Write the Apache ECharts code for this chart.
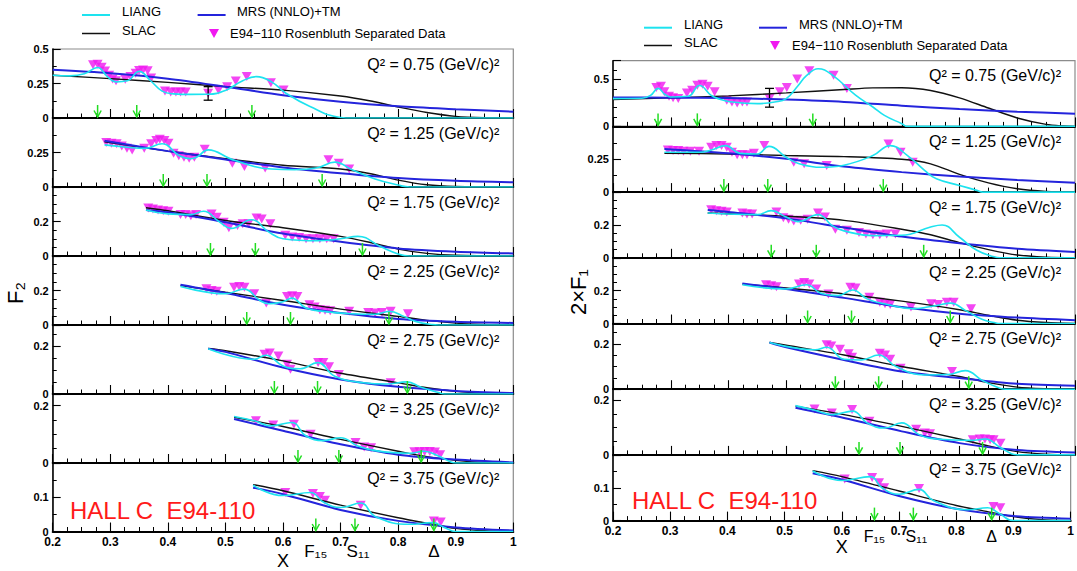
<!DOCTYPE html>
<html>
<head>
<meta charset="utf-8">
<title>E94-110 structure functions</title>
<script src="https://cdn.jsdelivr.net/npm/echarts@6/dist/echarts.min.js"></script>
<style>
  html, body { margin: 0; padding: 0; background: #fff; }
  #chart { width: 1077px; height: 571px; }
</style>
</head>
<body>
<div id="chart"></div>
<script>
// ---- Q^2 bins (one strip per bin) ----
const Q2 = ['0.75', '1.25', '1.75', '2.25', '2.75', '3.25', '3.75'];

// Resonance positions in x for each Q^2 bin: F15, S11, Delta
const RES_X = [
  [0.278, 0.346, 0.546],
  [0.392, 0.468, 0.668],
  [0.474, 0.552, 0.738],
  [0.537, 0.613, 0.784],
  [0.585, 0.660, 0.816],
  [0.626, 0.697, 0.840],
  [0.657, 0.725, 0.862]
];
const RES_NAMES = ['F\u2081\u2085', 'S\u2081\u2081', '\u0394'];

// ---- y ranges of the strips ----
const F2_YMAX  = [0.5, 0.5, 0.4, 0.4, 0.29, 0.24, 0.2];
const F2_YSTEP = [0.25, 0.25, 0.2, 0.2, 0.2, 0.2, 0.1];
const F2_YMINOR = [2, 2, 4, 4, 4, 4, 2];
const F1_YMAX  = [0.7, 0.5, 0.4, 0.4, 0.29, 0.24, 0.2];
const F1_YSTEP = [0.5, 0.25, 0.2, 0.2, 0.2, 0.2, 0.1];
const F1_YMINOR = [5, 2, 4, 4, 4, 4, 2];

// ---- F2: E94-110 Rosenbluth separated data [x, F2] ----
const F2_DATA = [
  [[0.270,0.385],[0.278,0.39],[0.285,0.368],[0.291,0.34],[0.298,0.31],[0.304,0.282],[0.310,0.27],[0.326,0.28],[0.335,0.3],[0.344,0.325],[0.350,0.345],[0.357,0.347],[0.365,0.342],[0.371,0.29],[0.395,0.195],[0.405,0.188],[0.414,0.188],[0.422,0.188],[0.431,0.188],[0.470,0.18],[0.488,0.202],[0.503,0.227],[0.518,0.268],[0.537,0.3],[0.579,0.256],[0.601,0.203]],
  [[0.293,0.322],[0.302,0.317],[0.311,0.313],[0.32,0.298],[0.329,0.281],[0.338,0.269],[0.359,0.281],[0.371,0.313],[0.38,0.337],[0.386,0.346],[0.394,0.337],[0.401,0.317],[0.41,0.245],[0.419,0.226],[0.428,0.216],[0.437,0.209],[0.446,0.216],[0.464,0.274],[0.512,0.173],[0.533,0.149],[0.569,0.137],[0.679,0.197],[0.697,0.173],[0.715,0.13]],
  [[0.366,0.278],[0.374,0.272],[0.383,0.267],[0.392,0.263],[0.401,0.259],[0.422,0.24],[0.431,0.24],[0.44,0.234],[0.449,0.24],[0.476,0.244],[0.485,0.225],[0.497,0.196],[0.506,0.164],[0.521,0.177],[0.53,0.187],[0.54,0.187],[0.554,0.221],[0.563,0.215],[0.578,0.187],[0.604,0.12],[0.616,0.11],[0.628,0.107],[0.64,0.1],[0.652,0.1],[0.664,0.1],[0.676,0.1],[0.688,0.1]],
  [[0.467,0.21],[0.476,0.2],[0.485,0.196],[0.515,0.219],[0.524,0.223],[0.533,0.219],[0.55,0.181],[0.571,0.127],[0.607,0.165],[0.616,0.169],[0.625,0.165],[0.646,0.117],[0.655,0.104],[0.664,0.088],[0.673,0.085],[0.682,0.083],[0.715,0.079],[0.748,0.073],[0.76,0.069],[0.772,0.073],[0.787,0.079],[0.817,0.065]],
  [[0.568,0.167],[0.577,0.172],[0.592,0.16],[0.607,0.125],[0.613,0.104],[0.661,0.132],[0.67,0.132],[0.68,0.115],[0.697,0.082],[0.787,0.047]],
  [[0.553,0.147],[0.583,0.132],[0.619,0.135],[0.648,0.1],[0.726,0.071],[0.741,0.056],[0.753,0.053],[0.828,0.039],[0.837,0.039],[0.846,0.04],[0.855,0.04],[0.864,0.038],[0.873,0.029]],
  [[0.604,0.114],[0.652,0.111],[0.664,0.102],[0.673,0.091],[0.735,0.077],[0.862,0.031],[0.874,0.028]]
];
// one point with its error bar drawn: [x, low, high]
const F2_ERR = [[0.470, 0.129, 0.227]];

// ---- F2 model curves ----
const F2_SLAC = [
  [[0.2,0.31],[0.3,0.285],[0.4,0.258],[0.5,0.227],[0.6,0.202],[0.7,0.159],[0.75,0.125],[0.8,0.08],[0.85,0.04],[0.9,0.012],[0.95,0.002],[1.0,0]],
  [[0.29,0.328],[0.4,0.26],[0.5,0.205],[0.6,0.158],[0.7,0.13],[0.75,0.098],[0.8,0.05],[0.85,0.016],[0.9,0.004],[1.0,0]],
  [[0.362,0.28],[0.4,0.262],[0.5,0.206],[0.6,0.164],[0.7,0.114],[0.75,0.08],[0.8,0.04],[0.85,0.015],[0.9,0.004],[1.0,0]],
  [[0.422,0.229],[0.5,0.19],[0.6,0.142],[0.7,0.092],[0.8,0.05],[0.85,0.027],[0.9,0.011],[0.95,0.003],[1.0,0]],
  [[0.47,0.191],[0.5,0.182],[0.6,0.139],[0.7,0.087],[0.8,0.047],[0.85,0.026],[0.9,0.011],[0.95,0.003],[1.0,0]],
  [[0.515,0.159],[0.6,0.127],[0.7,0.082],[0.8,0.041],[0.85,0.022],[0.9,0.009],[0.95,0.002],[1.0,0]],
  [[0.548,0.137],[0.6,0.119],[0.7,0.077],[0.8,0.04],[0.85,0.024],[0.9,0.009],[0.95,0.002],[1.0,0]]
];
const F2_MRS = [
  [[0.2,0.349],[0.3,0.324],[0.4,0.285],[0.5,0.227],[0.6,0.165],[0.7,0.118],[0.8,0.085],[0.9,0.064],[1.0,0.046]],
  [[0.29,0.335],[0.4,0.26],[0.5,0.2],[0.6,0.142],[0.7,0.1],[0.8,0.065],[0.9,0.045],[1.0,0.034]],
  [[0.362,0.267],[0.4,0.253],[0.5,0.196],[0.6,0.13],[0.7,0.082],[0.8,0.044],[0.9,0.025],[1.0,0.015]],
  [[0.422,0.233],[0.5,0.185],[0.6,0.117],[0.7,0.069],[0.8,0.035],[0.9,0.019],[1.0,0.012]],
  [[0.47,0.19],[0.5,0.177],[0.6,0.111],[0.7,0.061],[0.8,0.03],[0.9,0.013],[1.0,0.004]],
  [[0.515,0.153],[0.6,0.112],[0.7,0.065],[0.8,0.029],[0.9,0.012],[1.0,0.002]],
  [[0.548,0.128],[0.6,0.109],[0.7,0.063],[0.8,0.031],[0.9,0.012],[1.0,0.003]]
];
const F2_LIANG = [
  [[0.2,0.31],[0.23,0.305],[0.255,0.32],[0.278,0.366],[0.295,0.3],[0.31,0.262],[0.33,0.27],[0.35,0.338],[0.37,0.27],[0.39,0.195],[0.41,0.175],[0.44,0.171],[0.47,0.172],[0.5,0.2],[0.53,0.27],[0.554,0.3],[0.58,0.262],[0.604,0.183],[0.646,0.085],[0.7,0.004],[0.72,0],[1.0,0]],
  [[0.29,0.305],[0.33,0.288],[0.36,0.28],[0.39,0.313],[0.42,0.226],[0.44,0.205],[0.45,0.215],[0.47,0.269],[0.51,0.202],[0.55,0.149],[0.58,0.13],[0.62,0.125],[0.66,0.14],[0.69,0.18],[0.72,0.125],[0.76,0.058],[0.8,0.014],[0.82,0],[1.0,0]],
  [[0.362,0.267],[0.4,0.244],[0.44,0.24],[0.462,0.259],[0.49,0.196],[0.51,0.16],[0.545,0.21],[0.575,0.14],[0.6,0.1],[0.66,0.088],[0.7,0.1],[0.73,0.114],[0.77,0.053],[0.8,0.012],[0.82,0],[1.0,0]],
  [[0.422,0.223],[0.5,0.181],[0.532,0.208],[0.56,0.142],[0.575,0.123],[0.6,0.135],[0.615,0.156],[0.64,0.098],[0.67,0.079],[0.72,0.065],[0.76,0.062],[0.785,0.079],[0.81,0.05],[0.83,0.021],[0.86,0.002],[0.87,0],[1.0,0]],
  [[0.47,0.19],[0.55,0.146],[0.57,0.163],[0.6,0.118],[0.63,0.106],[0.66,0.132],[0.69,0.075],[0.74,0.047],[0.78,0.042],[0.815,0.051],[0.84,0.028],[0.87,0.006],[0.88,0],[1.0,0]],
  [[0.515,0.162],[0.55,0.147],[0.58,0.129],[0.615,0.141],[0.64,0.094],[0.67,0.078],[0.7,0.088],[0.73,0.059],[0.76,0.043],[0.82,0.034],[0.845,0.041],[0.87,0.024],[0.89,0.005],[0.9,0],[1.0,0]],
  [[0.548,0.135],[0.6,0.105],[0.648,0.114],[0.67,0.086],[0.7,0.07],[0.735,0.083],[0.76,0.044],[0.82,0.021],[0.86,0.026],[0.88,0.012],[0.9,0],[1.0,0]]
];

// ---- 2xF1: E94-110 Rosenbluth separated data [x, 2xF1] ----
const F1_DATA = [
  [[0.275,0.414],[0.283,0.429],[0.289,0.368],[0.297,0.321],[0.304,0.304],[0.313,0.296],[0.328,0.357],[0.337,0.386],[0.346,0.439],[0.355,0.45],[0.364,0.429],[0.376,0.368],[0.397,0.279],[0.406,0.261],[0.415,0.25],[0.424,0.261],[0.432,0.261],[0.471,0.296],[0.489,0.368],[0.501,0.414],[0.519,0.504],[0.54,0.593],[0.582,0.546],[0.605,0.404]],
  [[0.295,0.321],[0.304,0.316],[0.313,0.316],[0.322,0.311],[0.334,0.311],[0.349,0.311],[0.37,0.341],[0.379,0.354],[0.388,0.354],[0.397,0.341],[0.406,0.303],[0.415,0.285],[0.424,0.285],[0.432,0.285],[0.444,0.295],[0.462,0.354],[0.513,0.227],[0.531,0.215],[0.57,0.202],[0.677,0.366],[0.698,0.303],[0.719,0.227]],
  [[0.37,0.293],[0.379,0.287],[0.388,0.283],[0.397,0.279],[0.424,0.273],[0.432,0.267],[0.441,0.267],[0.483,0.279],[0.495,0.244],[0.504,0.234],[0.513,0.224],[0.525,0.228],[0.537,0.234],[0.555,0.273],[0.567,0.248],[0.585,0.174],[0.605,0.168],[0.626,0.154],[0.638,0.145],[0.65,0.141],[0.662,0.141],[0.674,0.145],[0.689,0.145]],
  [[0.465,0.236],[0.474,0.23],[0.483,0.224],[0.522,0.24],[0.531,0.25],[0.54,0.24],[0.552,0.21],[0.573,0.18],[0.611,0.22],[0.62,0.216],[0.644,0.16],[0.662,0.13],[0.671,0.12],[0.68,0.116],[0.716,0.1],[0.751,0.12],[0.763,0.116],[0.778,0.13],[0.79,0.13],[0.82,0.09]],
  [[0.57,0.196],[0.578,0.191],[0.593,0.176],[0.608,0.156],[0.614,0.141],[0.662,0.159],[0.671,0.151],[0.68,0.132],[0.698,0.093],[0.787,0.078]],
  [[0.549,0.168],[0.579,0.153],[0.614,0.166],[0.644,0.123],[0.725,0.094],[0.74,0.08],[0.749,0.077],[0.823,0.055],[0.835,0.058],[0.844,0.058],[0.853,0.055],[0.859,0.055],[0.871,0.043]],
  [[0.605,0.127],[0.653,0.131],[0.665,0.115],[0.674,0.1],[0.735,0.098],[0.865,0.043],[0.877,0.039]]
];
const F1_ERR = [[0.471, 0.205, 0.405]];

// ---- 2xF1 model curves ----
const F1_SLAC = [
  [[0.2,0.286],[0.3,0.304],[0.4,0.325],[0.5,0.357],[0.6,0.393],[0.65,0.41],[0.7,0.412],[0.75,0.383],[0.8,0.304],[0.85,0.196],[0.9,0.09],[0.95,0.021],[0.98,0.004],[1.0,0]],
  [[0.289,0.295],[0.4,0.29],[0.5,0.278],[0.6,0.27],[0.7,0.25],[0.75,0.215],[0.8,0.135],[0.85,0.07],[0.9,0.025],[0.95,0.005],[1.0,0]],
  [[0.364,0.273],[0.5,0.253],[0.6,0.228],[0.7,0.174],[0.75,0.14],[0.8,0.092],[0.85,0.05],[0.9,0.017],[0.95,0.004],[1.0,0]],
  [[0.424,0.24],[0.5,0.216],[0.6,0.18],[0.7,0.136],[0.8,0.084],[0.85,0.05],[0.9,0.02],[0.95,0.006],[1.0,0]],
  [[0.471,0.206],[0.5,0.194],[0.6,0.151],[0.7,0.1],[0.8,0.056],[0.85,0.029],[0.9,0.009],[0.95,0.002],[1.0,0]],
  [[0.516,0.178],[0.6,0.147],[0.7,0.104],[0.8,0.058],[0.85,0.033],[0.9,0.012],[0.95,0.003],[1.0,0]],
  [[0.549,0.152],[0.6,0.134],[0.7,0.09],[0.8,0.046],[0.85,0.029],[0.9,0.012],[0.95,0.003],[1.0,0]]
];
const F1_MRS = [
  [[0.2,0.307],[0.3,0.306],[0.4,0.302],[0.5,0.286],[0.6,0.261],[0.7,0.22],[0.8,0.185],[0.9,0.157],[1.0,0.136]],
  [[0.289,0.328],[0.4,0.295],[0.5,0.253],[0.6,0.194],[0.7,0.152],[0.8,0.119],[0.9,0.093],[1.0,0.071]],
  [[0.364,0.291],[0.4,0.279],[0.5,0.24],[0.6,0.184],[0.7,0.129],[0.8,0.088],[0.9,0.055],[1.0,0.036]],
  [[0.424,0.244],[0.5,0.21],[0.6,0.156],[0.7,0.1],[0.8,0.06],[0.9,0.036],[1.0,0.02]],
  [[0.471,0.206],[0.5,0.185],[0.6,0.129],[0.7,0.078],[0.8,0.049],[0.9,0.024],[1.0,0.015]],
  [[0.516,0.172],[0.6,0.135],[0.7,0.086],[0.8,0.043],[0.9,0.018],[1.0,0.009]],
  [[0.549,0.144],[0.6,0.125],[0.7,0.075],[0.8,0.036],[0.9,0.014],[1.0,0.006]]
];
const F1_LIANG = [
  [[0.2,0.296],[0.25,0.3],[0.265,0.33],[0.278,0.405],[0.29,0.34],[0.3,0.314],[0.33,0.321],[0.35,0.435],[0.37,0.33],[0.385,0.29],[0.4,0.265],[0.45,0.243],[0.48,0.26],[0.5,0.296],[0.52,0.43],[0.535,0.54],[0.555,0.615],[0.58,0.546],[0.62,0.332],[0.65,0.207],[0.67,0.118],[0.7,0.029],[0.71,0],[1.0,0]],
  [[0.289,0.303],[0.35,0.303],[0.37,0.32],[0.395,0.354],[0.42,0.295],[0.45,0.29],[0.47,0.348],[0.5,0.265],[0.52,0.22],[0.56,0.189],[0.6,0.205],[0.65,0.278],[0.68,0.354],[0.71,0.278],[0.74,0.164],[0.76,0.101],[0.8,0.051],[0.83,0.013],[0.84,0],[1.0,0]],
  [[0.364,0.273],[0.45,0.263],[0.474,0.287],[0.5,0.248],[0.52,0.22],[0.555,0.263],[0.58,0.194],[0.6,0.164],[0.65,0.135],[0.7,0.137],[0.75,0.188],[0.77,0.2],[0.8,0.125],[0.83,0.046],[0.86,0.006],[0.87,0],[1.0,0]],
  [[0.424,0.236],[0.5,0.21],[0.535,0.236],[0.56,0.184],[0.59,0.17],[0.615,0.204],[0.64,0.15],[0.67,0.12],[0.72,0.09],[0.76,0.11],[0.785,0.124],[0.81,0.08],[0.84,0.024],[0.86,0.006],[0.87,0],[1.0,0]],
  [[0.471,0.206],[0.55,0.174],[0.57,0.185],[0.6,0.132],[0.63,0.129],[0.66,0.151],[0.69,0.1],[0.74,0.063],[0.78,0.065],[0.81,0.082],[0.84,0.038],[0.87,0.004],[0.88,0],[1.0,0]],
  [[0.516,0.18],[0.55,0.163],[0.58,0.147],[0.615,0.16],[0.64,0.117],[0.67,0.098],[0.7,0.117],[0.73,0.074],[0.76,0.058],[0.82,0.053],[0.845,0.058],[0.87,0.028],[0.89,0.004],[0.9,0],[1.0,0]],
  [[0.549,0.151],[0.6,0.122],[0.65,0.134],[0.67,0.1],[0.7,0.08],[0.735,0.095],[0.76,0.061],[0.82,0.033],[0.855,0.039],[0.875,0.022],[0.9,0],[1.0,0]]
];

// ---- styling ----
const FONT = '"Liberation Sans", Arial, Helvetica, sans-serif';
const C_LIANG = '#1de3ef';
const C_SLAC = '#111111';
const C_MRS = '#2424dc';
const C_DATA = '#f018f0';
const C_ARROW = '#22dd22';

// two panels: F2 on the left, 2xF1 on the right
const PANELS = [
  { data: F2_DATA, slac: F2_SLAC, mrs: F2_MRS, liang: F2_LIANG, err: F2_ERR,
    ymax: F2_YMAX, ystep: F2_YSTEP, yminor: F2_YMINOR,
    left: 52.7, width: 460.6, top: 49, rowH: 69,
    xNameGap: 29.5, resDy: 19.5, resFont: 17, yTitle: 'F\u2082', yTitleX: 15, yTitleY: 293, yTitleSize: 22,
    hall: [70, 510] },
  { data: F1_DATA, slac: F1_SLAC, mrs: F1_MRS, liang: F1_LIANG, err: F1_ERR,
    ymax: F1_YMAX, ystep: F1_YSTEP, yminor: F1_YMINOR,
    left: 613, width: 462, top: 60.7, rowH: 65.7,
    xNameGap: 26, resDy: 16, resFont: 16, yTitle: '2\u00d7F\u2081', yTitleX: 578.5, yTitleY: 292, yTitleSize: 22,
    hall: [632, 500.7] }
];

const grids = [], xAxes = [], yAxes = [], series = [], graphics = [];

function arrowItem(params, api) {
  const p = api.coord([api.value(0), 0]);
  const x = p[0], y = p[1] - 1;
  return {
    type: 'group',
    children: [
      { type: 'line', shape: { x1: x, y1: y - 12, x2: x, y2: y }, style: { stroke: C_ARROW, lineWidth: 1.5 } },
      { type: 'polyline', shape: { points: [[x - 3.6, y - 6.5], [x, y], [x + 3.6, y - 6.5]] }, style: { stroke: C_ARROW, lineWidth: 1.5, fill: null } }
    ]
  };
}

function errItem(params, api) {
  const x = api.value(0);
  const lo = api.coord([x, api.value(1)]);
  const hi = api.coord([x, api.value(2)]);
  const s = { stroke: '#000', lineWidth: 1.3 };
  return {
    type: 'group',
    children: [
      { type: 'line', shape: { x1: lo[0], y1: lo[1], x2: hi[0], y2: hi[1] }, style: s },
      { type: 'line', shape: { x1: lo[0] - 4.5, y1: lo[1], x2: lo[0] + 4.5, y2: lo[1] }, style: s },
      { type: 'line', shape: { x1: hi[0] - 4.5, y1: hi[1], x2: hi[0] + 4.5, y2: hi[1] }, style: s }
    ]
  };
}

PANELS.forEach((P, pi) => {
  for (let i = 0; i < 7; i++) {
    const gi = pi * 7 + i;
    const top = P.top + i * P.rowH;
    const bottomRow = i === 6;
    grids.push({
      left: P.left, top: top, width: P.width, height: P.rowH,
      show: true, borderColor: '#8c8c8c', borderWidth: 1.2, backgroundColor: 'transparent',
      containLabel: false
    });
    xAxes.push({
      gridIndex: gi, type: 'value', min: 0.2, max: 1, interval: 0.1,
      axisLine: { show: true, onZero: false, lineStyle: { color: '#000', width: 2 } },
      axisTick: { show: true, inside: true, length: 9, lineStyle: { color: '#000', width: 1.1 } },
      minorTick: { show: true, splitNumber: 4, length: 4.5, lineStyle: { color: '#000', width: 1 } },
      splitLine: { show: false }, minorSplitLine: { show: false },
      axisLabel: { show: bottomRow, margin: 5, fontSize: 12, lineHeight: 11, fontWeight: 'bold', color: '#000', fontFamily: FONT,
                   showMinLabel: true, showMaxLabel: true },
      name: bottomRow ? 'X' : '', nameLocation: 'middle', nameGap: P.xNameGap,
      nameTextStyle: { fontSize: 18, color: '#000', fontFamily: FONT, verticalAlign: 'middle' }
    });
    yAxes.push({
      gridIndex: gi, type: 'value', min: 0, max: P.ymax[i], interval: P.ystep[i],
      axisLine: { show: true, onZero: false, lineStyle: { color: '#000', width: 1.5 } },
      axisTick: { show: true, inside: true, length: 8, lineStyle: { color: '#000', width: 1.1 } },
      minorTick: { show: true, splitNumber: P.yminor[i], length: 4, lineStyle: { color: '#000', width: 1 } },
      splitLine: { show: false }, minorSplitLine: { show: false },
      axisLabel: { margin: 4, fontSize: 11, lineHeight: 10, fontWeight: 'bold', color: '#000', fontFamily: FONT,
                   showMinLabel: true, showMaxLabel: pi === 0 && i === 0 }
    });

    // measured points (down triangles)
    series.push({
      type: 'scatter', name: 'E94-110 Rosenbluth Separated Data', xAxisIndex: gi, yAxisIndex: gi,
      data: P.data[i], symbol: 'triangle', symbolRotate: 180, symbolSize: [10, 9],
      itemStyle: { color: C_DATA }, z: 2, silent: true, animation: false
    });
    const line = (name, data, color, width, smooth, z) => ({
      type: 'line', name: name, xAxisIndex: gi, yAxisIndex: gi, data: data,
      symbol: 'none', smooth: smooth, lineStyle: { color: color, width: width },
      itemStyle: { color: color }, z: z, silent: true, animation: false, clip: true
    });
    series.push(line('SLAC', P.slac[i], C_SLAC, 1.4, 0.3, 3));
    series.push(line('MRS (NNLO)+TM', P.mrs[i], C_MRS, 2, 0.3, 3));
    series.push(line('LIANG', P.liang[i], C_LIANG, 1.6, 0.45, 4));

    // resonance markers
    series.push({
      type: 'custom', xAxisIndex: gi, yAxisIndex: gi, data: RES_X[i].map(x => [x, 0]),
      encode: { x: 0, y: 1 }, renderItem: arrowItem, z: 5, silent: true, animation: false
    });

    if (i === 0) {
      series.push({
        type: 'custom', xAxisIndex: gi, yAxisIndex: gi, data: P.err,
        encode: { x: 0, y: [1, 2] }, renderItem: errItem, z: 3, silent: true, animation: false
      });
    }
    if (bottomRow) {
      const dy = P.resDy, fs = P.resFont;
      series.push({
        type: 'custom', xAxisIndex: gi, yAxisIndex: gi, clip: false,
        data: RES_X[i].map((x, k) => [x, 0, k]),
        encode: { x: 0, y: 1 },
        renderItem: function (params, api) {
          const k = api.value(2);
          const p = api.coord([api.value(0), 0]);
          // the S11 tag sits just right of the 0.7 tick label
          const dx = k === 1 ? 3 : 0;
          return {
            type: 'text', x: p[0] + dx, y: p[1] + dy,
            style: { text: RES_NAMES[k], fill: '#000', fontSize: fs, fontFamily: FONT,
                     align: 'center', verticalAlign: 'middle' }
          };
        },
        z: 6, silent: true, animation: false
      });
    }

    // Q^2 label in each strip
    graphics.push({
      type: 'text', x: P.left + P.width - 14, y: top + 15, silent: true,
      style: { text: 'Q\u00b2 = ' + Q2[i] + ' (GeV/c)\u00b2', fill: '#000', fontSize: 16, fontFamily: FONT,
               align: 'right', verticalAlign: 'middle' }
    });
  }

  // y title
  graphics.push({
    type: 'text', x: P.yTitleX, y: P.yTitleY, rotation: Math.PI / 2, silent: true,
    style: { text: P.yTitle, fill: '#000', fontSize: P.yTitleSize, fontFamily: FONT, align: 'center', verticalAlign: 'middle' }
  });
  // experiment tag
  graphics.push({
    type: 'text', x: P.hall[0], y: P.hall[1], silent: true,
    style: { text: 'HALL C  E94-110', fill: '#ff1a1a', fontSize: 24, fontFamily: FONT, align: 'left', verticalAlign: 'middle' }
  });
});

// legend blocks above each panel
function legendBlock(o) {
  const ts = { fill: '#000', fontSize: 13, fontFamily: FONT, align: 'left', verticalAlign: 'middle' };
  graphics.push(
    { type: 'line', shape: { x1: o.l1, y1: o.r1, x2: o.l1 + 28, y2: o.r1 }, style: { stroke: C_LIANG, lineWidth: 2 }, silent: true },
    { type: 'text', x: o.t1, y: o.r1 - 3.3, style: Object.assign({ text: 'LIANG' }, ts), silent: true },
    { type: 'line', shape: { x1: o.l1, y1: o.r2, x2: o.l1 + 28, y2: o.r2 }, style: { stroke: C_SLAC, lineWidth: 1.5 }, silent: true },
    { type: 'text', x: o.t1, y: o.r2 - 3.5, style: Object.assign({ text: 'SLAC' }, ts), silent: true },
    { type: 'line', shape: { x1: o.l2, y1: o.r1, x2: o.l2 + 28, y2: o.r1 }, style: { stroke: C_MRS, lineWidth: 2 }, silent: true },
    { type: 'text', x: o.t2, y: o.r1 - 3.3, style: Object.assign({ text: 'MRS (NNLO)+TM' }, ts), silent: true },
    { type: 'polygon', shape: { points: [[o.m - 5, o.r2 - 4.5], [o.m + 5, o.r2 - 4.5], [o.m, o.r2 + 4.5]] }, style: { fill: C_DATA }, silent: true },
    { type: 'text', x: o.t3, y: o.r2, style: Object.assign({ text: 'E94\u2212110 Rosenbluth Separated Data' }, ts), silent: true }
  );
}
legendBlock({ l1: 82, t1: 122, l2: 197.6, t2: 237, m: 214, t3: 230, r1: 15, r2: 33.5 });
legendBlock({ l1: 644, t1: 684, l2: 759, t2: 799, m: 775, t3: 792, r1: 27.7, r2: 45.5 });

const chart = echarts.init(document.getElementById('chart'), null, { renderer: 'svg' });
chart.setOption({
  backgroundColor: '#fff',
  animation: false,
  textStyle: { fontFamily: FONT },
  grid: grids,
  xAxis: xAxes,
  yAxis: yAxes,
  series: series,
  graphic: { elements: graphics }
});
</script>
</body>
</html>
